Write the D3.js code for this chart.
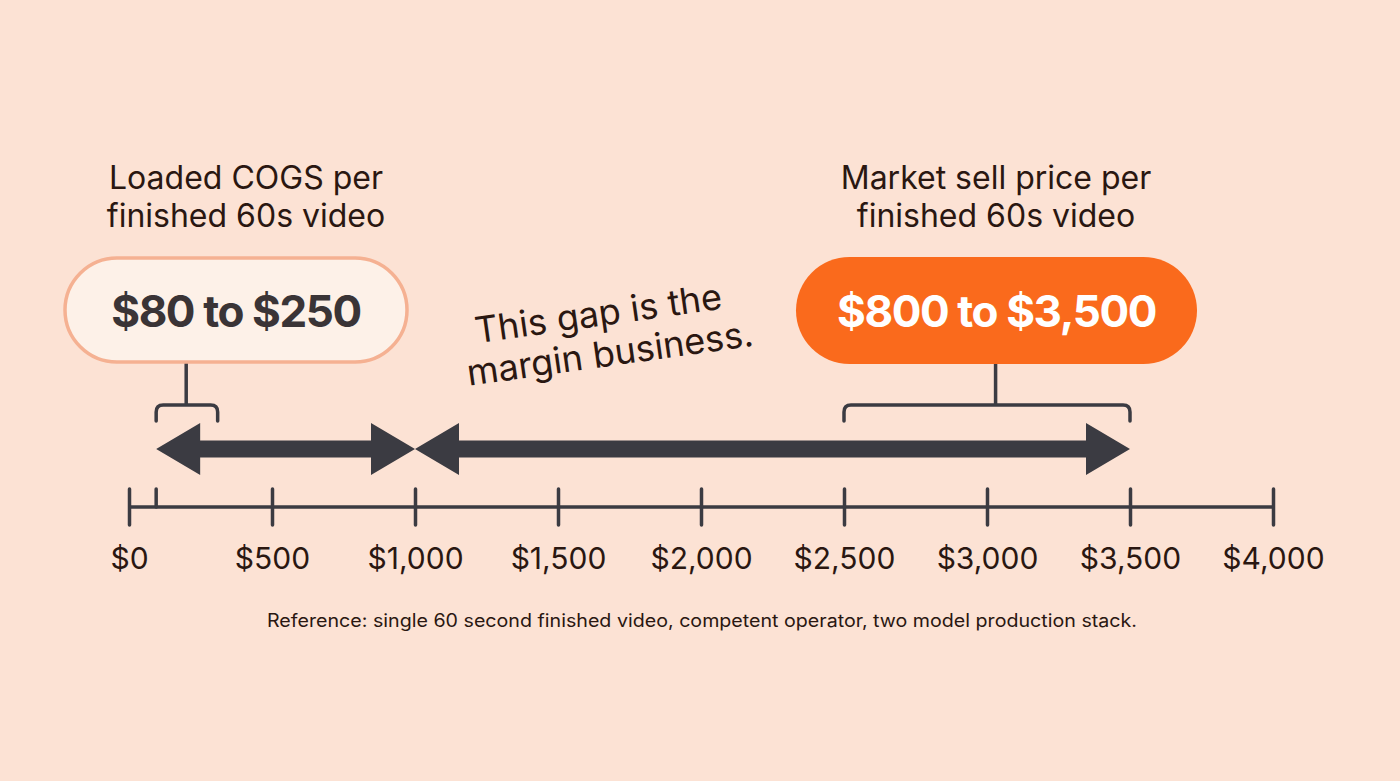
<!DOCTYPE html>
<html>
<head>
<meta charset="utf-8">
<script src="https://cdn.jsdelivr.net/npm/d3@7"></script>
<style>
  html, body { margin: 0; padding: 0; background: #fce2d4; }
  svg { display: block; font-family: Inter, "Noto Sans", sans-serif; }
</style>
</head>
<body>
<div id="chart"></div>
<script>

// axis values
var tickValues = [0, 500, 1000, 1500, 2000, 2500, 3000, 3500, 4000]
var minorTicks = [95]

// double arrows along the axis (from, to)
var arrowSpans = [[95, 1000], [1000, 3500]]

// brackets under the callouts (from, to, stem)
var cogsBracket = [95, 310, 200]
var sellBracket = [2500, 3500, 3030]

// callout texts
var cogsTitle = ["Loaded COGS per", "finished 60s video"]
var sellTitle = ["Market sell price per", "finished 60s video"]
var cogsRange = "$80 to $250"
var sellRange = "$800 to $3,500"
var gapNote = ["This gap is the", "margin business."]
var footNote = "Reference: single 60 second finished video, competent operator, two model production stack."

var width = 1400, height = 781
var ink = "#3b3b42", brown = "#2a1711"

var svg = d3.select("#chart").append("svg")
    .attr("width", width)
    .attr("height", height)

svg.append("rect").attr("width", width).attr("height", height).attr("fill", "#fce2d4")

var x = d3.scaleLinear().domain([0, 4000]).range([129, 1273])

var axisY = 507

// axis
var axis = d3.axisBottom(x)
    .tickValues(tickValues)
    .tickFormat(d3.format("$,"))
    .tickSize(18)
    .tickPadding(23)

var gAxis = svg.append("g")
    .attr("transform", "translate(0," + axisY + ")")
    .call(axis)

gAxis.select(".domain").remove()

gAxis.insert("line", ":first-child")
    .attr("x1", x(0)).attr("x2", x(4000))
    .attr("stroke", ink).attr("stroke-width", 3.5)

gAxis.selectAll(".tick line")
    .attr("y1", -18).attr("y2", 18)
    .attr("stroke", ink).attr("stroke-width", 3.5)
    .attr("stroke-linecap", "round")

gAxis.selectAll(".tick text")
    .attr("fill", brown)
    .attr("font-size", 30)
    .attr("font-family", "Inter, sans-serif")

gAxis.selectAll(".minor")
    .data(minorTicks)
    .enter().append("line")
    .attr("class", "minor")
    .attr("x1", d => x(d)).attr("x2", d => x(d))
    .attr("y1", -18).attr("y2", 0)
    .attr("stroke", ink).attr("stroke-width", 3.5)
    .attr("stroke-linecap", "round")

// double arrows
var arrowY = 449, shaft = 8.5, headH = 26, headL = 44

function arrowPath(a, b) {
    var x0 = x(a), x1 = x(b)
    return "M" + x0 + "," + arrowY +
        "L" + (x0 + headL) + "," + (arrowY - headH) +
        "L" + (x0 + headL) + "," + (arrowY - shaft) +
        "L" + (x1 - headL) + "," + (arrowY - shaft) +
        "L" + (x1 - headL) + "," + (arrowY - headH) +
        "L" + x1 + "," + arrowY +
        "L" + (x1 - headL) + "," + (arrowY + headH) +
        "L" + (x1 - headL) + "," + (arrowY + shaft) +
        "L" + (x0 + headL) + "," + (arrowY + shaft) +
        "L" + (x0 + headL) + "," + (arrowY + headH) + "Z"
}

svg.selectAll(".arrow")
    .data(arrowSpans)
    .enter().append("path")
    .attr("class", "arrow")
    .attr("d", d => arrowPath(d[0], d[1]))
    .attr("fill", ink)

// brackets + stems
var bracketTop = 405, bracketEnd = 421, r = 7

function bracketPath(d, stemTop) {
    var a = x(d[0]), b = x(d[1]), s = x(d[2])
    return "M" + a + "," + bracketEnd +
        "L" + a + "," + (bracketTop + r) +
        "Q" + a + "," + bracketTop + " " + (a + r) + "," + bracketTop +
        "L" + (b - r) + "," + bracketTop +
        "Q" + b + "," + bracketTop + " " + b + "," + (bracketTop + r) +
        "L" + b + "," + bracketEnd +
        "M" + s + "," + bracketTop + "L" + s + "," + stemTop
}

svg.selectAll(".bracket")
    .data([[cogsBracket, 362], [sellBracket, 364]])
    .enter().append("path")
    .attr("class", "bracket")
    .attr("d", d => bracketPath(d[0], d[1]))
    .attr("fill", "none")
    .attr("stroke", ink)
    .attr("stroke-width", 3.5)
    .attr("stroke-linecap", "round")

// callout boxes
var boxes = [
    { x0: 65, x1: 407, y0: 258, y1: 362, tx: 246, fill: "#fdf1e8", stroke: "#f5b192", text: cogsRange, color: "#3a3436", title: cogsTitle },
    { x0: 796, x1: 1197, y0: 257, y1: 364, tx: 996, fill: "#fa6a1c", stroke: "none", text: sellRange, color: "#ffffff", title: sellTitle }
]

boxes.forEach(function(b) {
    var cx = (b.x0 + b.x1) / 2
    var h = b.y1 - b.y0
    svg.append("rect")
        .attr("x", b.x0).attr("y", b.y0)
        .attr("width", b.x1 - b.x0).attr("height", h)
        .attr("rx", h / 2).attr("ry", h / 2)
        .attr("fill", b.fill)
        .attr("stroke", b.stroke)
        .attr("stroke-width", 3.5)
    svg.append("text")
        .attr("x", cx).attr("y", 327)
        .attr("text-anchor", "middle")
        .attr("font-size", 44)
        .attr("font-weight", 700)
        .attr("letter-spacing", -1.4)
        .attr("fill", b.color)
        .text(b.text)
    svg.append("text")
        .attr("text-anchor", "middle")
        .attr("font-size", 32)
        .attr("fill", brown)
        .selectAll("tspan")
        .data(b.title)
        .enter().append("tspan")
        .attr("x", b.tx)
        .attr("y", (d, i) => 189 + i * 38)
        .text(d => d)
})

// rotated gap note
svg.append("text")
    .attr("transform", "translate(600,326) rotate(-8)")
    .attr("text-anchor", "middle")
    .attr("font-size", 36)
    .attr("fill", brown)
    .selectAll("tspan")
    .data(gapNote)
    .enter().append("tspan")
    .attr("x", (d, i) => i * 6)
    .attr("y", (d, i) => i * 41)
    .text(d => d)

// foot note
svg.append("text")
    .attr("x", 702).attr("y", 627)
    .attr("text-anchor", "middle")
    .attr("font-size", 18)
    .attr("fill", brown)
    .attr("textLength", 870)
    .attr("lengthAdjust", "spacingAndGlyphs")
    .text(footNote)

</script>
</body>
</html>
